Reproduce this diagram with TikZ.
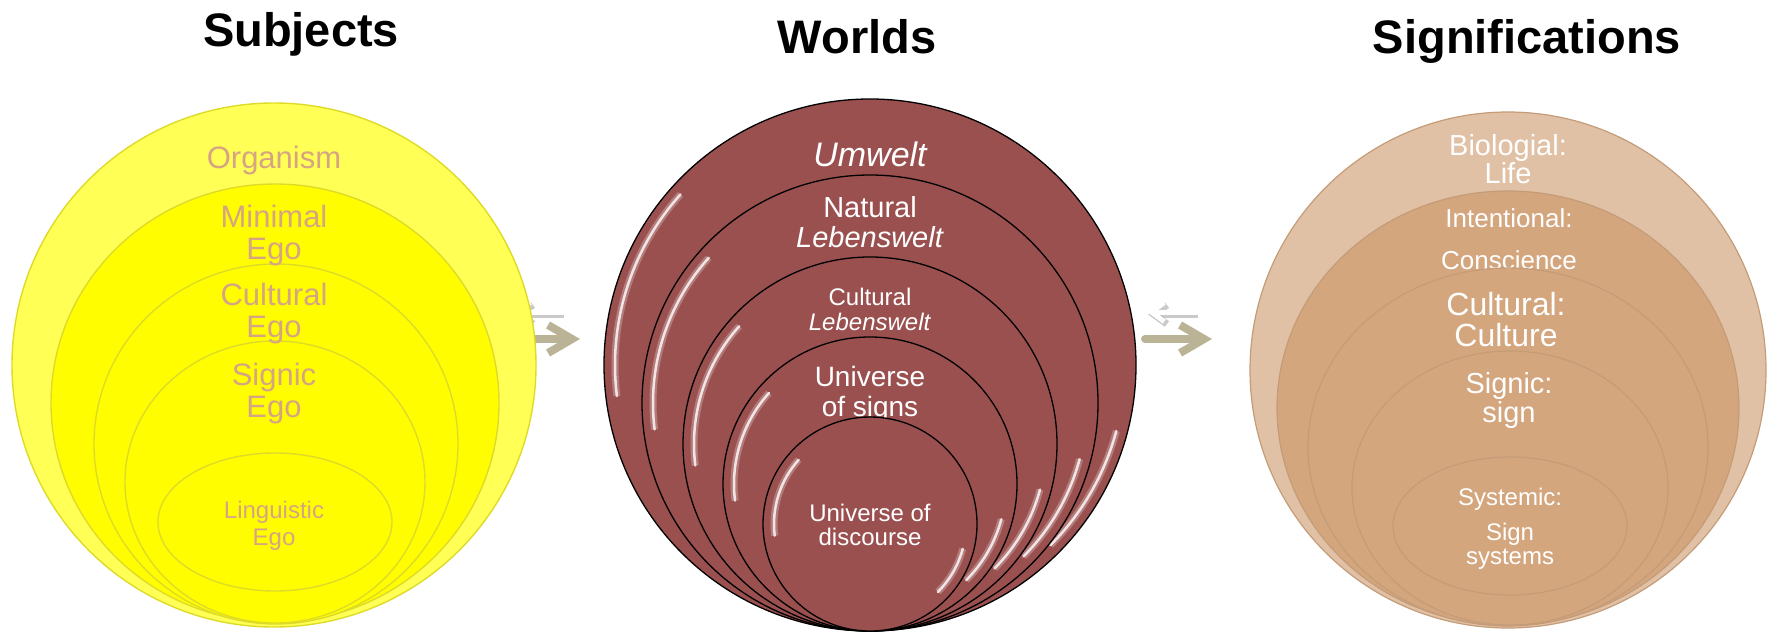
\documentclass[tikz,border=0pt]{standalone}
\usepackage{fontspec}
\setmainfont{Liberation Sans}
\usetikzlibrary{shapes.geometric,arrows.meta}

\definecolor{egofill}{RGB}{255,253,0}
\definecolor{egoouter}{RGB}{255,255,85}
\definecolor{egoedge}{RGB}{222,219,40}
\definecolor{egotext}{RGB}{214,164,130}
\definecolor{worldfill}{RGB}{155,80,80}
\definecolor{signfill}{RGB}{212,166,126}
\definecolor{signouter}{RGB}{225,193,166}
\definecolor{signedge}{RGB}{196,156,120}
\definecolor{arrowgrey}{RGB}{186,179,150}

\tikzset{
  ring/.style 2 args={ellipse, inner sep=0pt, outer sep=0pt, minimum width=#1, minimum height=#2},
  egoring/.style={fill=egofill, draw=egoedge, line width=1.4pt},
  worldring/.style={fill=worldfill, draw=black, line width=1.3pt},
  signring/.style={fill=signfill, draw=signedge, line width=1.2pt},
  gloss/.style={draw=white, line width=2.5, draw opacity=0.8, line cap=round,
    preaction={draw=white, draw opacity=0.25, line width=7}},
  lbl/.style 2 args={align=center, inner sep=0pt, font=\fontsize{#1}{#2}\selectfont},
  heading/.style={anchor=base, inner sep=0pt, font=\fontsize{47}{47}\selectfont\bfseries},
  fwdarrow/.style={draw=arrowgrey, line width=8pt, line cap=round,
    -{Straight Barb[length=24pt,width=28pt]}},
  backarrow/.style={draw=white, line width=5pt, line cap=round,
    -{Straight Barb[length=13pt,width=19pt]},
    preaction={draw=black!60, draw opacity=0.35, line width=7pt,
      transform canvas={shift={(1pt,-2.5pt)}}}},
}

\begin{document}
\begin{tikzpicture}[x=1pt,y=-1pt]
\useasboundingbox (0,0) rectangle (1774,634);

\node[heading] (tsub) at (301,47) {Subjects};
\node[heading] (twor) at (857,54) {Worlds};
\node[heading] (tsig) at (1527,53) {Significations};

\coordinate (lb1) at (563,312);
\coordinate (lb2) at (513,312);
\coordinate (lf1) at (513,339);
\coordinate (lf2) at (580,339);
\coordinate (rb1) at (1197,312);
\coordinate (rb2) at (1147,312);
\coordinate (rf1) at (1145,339);
\coordinate (rf2) at (1212,339);
\draw[backarrow] (lb1) -- (lb2);
\draw[fwdarrow] (lf1) -- (lf2);
\draw[backarrow] (rb1) -- (rb2);
\draw[fwdarrow] (rf1) -- (rf2);

\node[ring={524}{524}, egoring, fill=egoouter] (s1) at (274,365) {};
\node[ring={448}{438}, egoring] (s2) at (275,403) {};
\node[ring={364}{360}, egoring] (s3) at (276,444) {};
\node[ring={300}{282}, egoring] (s4) at (275,482) {};
\node[ring={234}{138}, egoring] (s5) at (275,522) {};
\node[lbl={31}{32}, text=egotext] (organism) at (274,160) {Organism};
\node[lbl={31}{32}, text=egotext] (minimal) at (274,235) {Minimal\\Ego};
\node[lbl={31}{32}, text=egotext] (cultego) at (274,313) {Cultural\\Ego};
\node[lbl={31}{32}, text=egotext] (signego) at (274,393) {Signic\\Ego};
\node[lbl={24}{27}, text=egotext] (lingego) at (274,526) {Linguistic\\Ego};

\node[ring={532}{532}, worldring] (w1) at (870,365) {};
\draw[gloss] (w1.center) ++(173:255) arc[start angle=173, end angle=222, radius=255];
\draw[gloss] (w1.center) ++(15:255) arc[start angle=15, end angle=45, radius=255];
\node[lbl={34}{34}, text=white] (umwelt) at (870,154) {\itshape Umwelt};
\node[ring={456}{456}, worldring] (w2) at (870,403) {};
\draw[gloss] (w2.center) ++(173:217) arc[start angle=173, end angle=222, radius=217];
\draw[gloss] (w2.center) ++(15:217) arc[start angle=15, end angle=45, radius=217];
\node[lbl={29}{30}, text=white] (natural) at (870,222) {Natural\\\textit{Lebenswelt}};
\node[ring={374}{374}, worldring] (w3) at (870,444) {};
\draw[gloss] (w3.center) ++(173:176) arc[start angle=173, end angle=222, radius=176];
\draw[gloss] (w3.center) ++(15:176) arc[start angle=15, end angle=45, radius=176];
\node[lbl={24}{25}, text=white] (cultural) at (870,309) {Cultural\\\textit{Lebenswelt}};
\node[ring={294}{294}, worldring] (w4) at (870,484) {};
\draw[gloss] (w4.center) ++(173:136) arc[start angle=173, end angle=222, radius=136];
\draw[gloss] (w4.center) ++(15:136) arc[start angle=15, end angle=45, radius=136];
\node[lbl={28}{30}, text=white] (signs) at (870,394) {Universe\\of signs};
\node[ring={214}{214}, worldring] (w5) at (870,524) {};
\draw[gloss] (w5.center) ++(173:96) arc[start angle=173, end angle=222, radius=96];
\draw[gloss] (w5.center) ++(15:96) arc[start angle=15, end angle=45, radius=96];
\node[lbl={24}{24}, text=white] (discourse) at (870,525) {Universe of\\discourse};

\node[ring={516}{516}, signring, fill=signouter] (g1) at (1508,370) {};
\node[lbl={29}{28}, text=white] (life) at (1508,159) {Biologial:\\Life};
\node[ring={462}{434}, signring] (g2) at (1508,408) {};
\node[lbl={26}{28}, text=white] (conscience) at (1509,239) {Intentional:\\[14pt]Conscience};
\node[ring={400}{358}, signring, fill opacity=0.8] (g3) at (1508,447) {};
\node[lbl={32}{31}, text=white] (culture) at (1506,320) {Cultural:\\Culture};
\node[ring={316}{274}, signring] (g4) at (1510,488) {};
\node[lbl={29}{29}, text=white] (sign) at (1509,400) {Signic:\\sign};
\node[ring={234}{138}, signring] (g5) at (1510,526) {};
\node[lbl={24}{24}, text=white] (systems) at (1510,529) {Systemic:\\[11pt]Sign\\systems};
\end{tikzpicture}
\end{document}
